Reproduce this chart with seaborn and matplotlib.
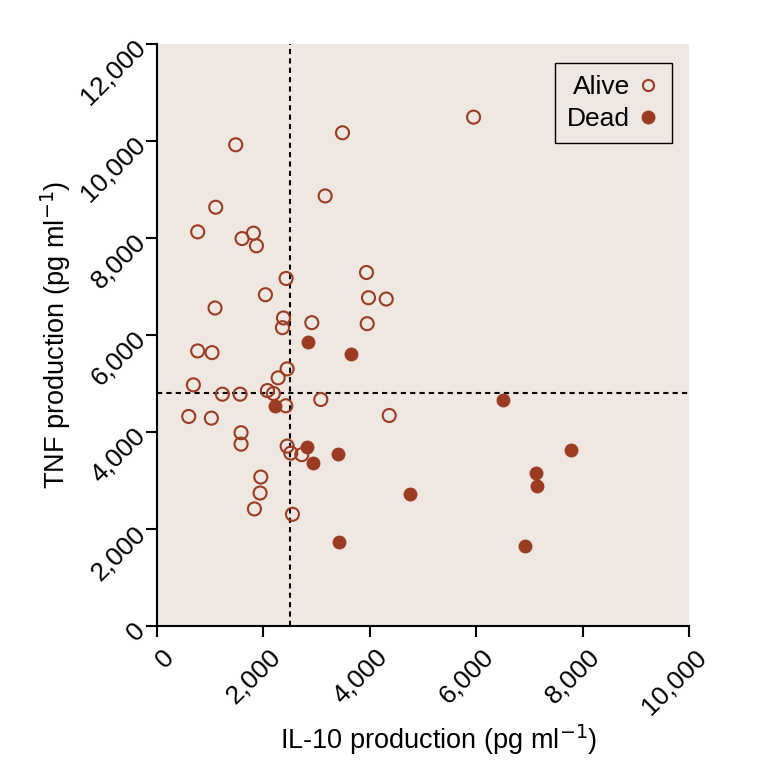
import matplotlib
matplotlib.use("Agg")
import matplotlib.pyplot as plt
import matplotlib.transforms as mtransforms
import seaborn as sns
import pandas as pd
from matplotlib.lines import Line2D
from matplotlib.ticker import FuncFormatter

# IL-10 / TNF production per patient
alive_il10 = [3487, 1480, 3161, 1104, 765, 1813, 1599, 1869, 2427, 3938, 2038, 3976,
              4309, 1091, 2377, 2358, 2910, 3951, 765, 1035, 2446, 2277, 684, 1229,
              1562, 2076, 2189, 2421, 3079, 4365, 596, 1022, 1580, 1580, 2446, 2515,
              2722, 1951, 1938, 1831, 2546, 5951]
alive_tnf = [10171, 9924, 8870, 8637, 8130, 8103, 7992, 7842, 7170, 7293, 6835, 6773,
             6746, 6561, 6356, 6156, 6259, 6238, 5677, 5642, 5307, 5122, 4978, 4786,
             4786, 4861, 4800, 4547, 4676, 4347, 4327, 4292, 3992, 3757, 3716, 3573,
             3540, 3079, 2750, 2422, 2312, 10493]
dead_il10 = [2835, 3656, 2220, 2822, 3399, 2941, 3412, 6497, 7783, 7131, 7149, 4754, 6924]
dead_tnf = [5868, 5615, 4547, 3690, 3560, 3361, 1731, 4656, 3628, 3162, 2895, 2730, 1655]

il10_cutoff = 2500
tnf_cutoff = 4800

red = "#9a3b22"
bg = "#efe7e1"

df = pd.DataFrame({
    "il10": alive_il10 + dead_il10,
    "tnf": alive_tnf + dead_tnf,
    "status": ["Alive"] * len(alive_il10) + ["Dead"] * len(dead_il10),
})

sns.set_style("ticks")
plt.rcParams['font.family'] = ['Liberation Sans', 'DejaVu Sans']
plt.rcParams['text.color'] = 'black'
plt.rcParams['axes.labelcolor'] = 'black'

fig = plt.figure(figsize=(7.64, 7.8), dpi=100)
ax = fig.add_axes([0.2055, 0.1968, 0.6963, 0.7468])
ax.set_facecolor(bg)

alive = df[df.status == "Alive"]
dead = df[df.status == "Dead"]
sns.scatterplot(data=alive, x="il10", y="tnf", ax=ax, marker="o", s=88,
                facecolor="none", edgecolor=red, linewidth=1.5, legend=False, zorder=3)
sns.scatterplot(data=dead, x="il10", y="tnf", ax=ax, marker="o", s=100,
                color=red, edgecolor=red, linewidth=0, legend=False, zorder=3)

ax.axvline(il10_cutoff, color="black", ls=(0, (2.5, 2)), lw=1.5, zorder=1)
ax.axhline(tnf_cutoff, color="black", ls=(0, (2.5, 2)), lw=1.5, zorder=1)

ax.set_xlim(0, 10000)
ax.set_ylim(0, 12000)
ax.set_xticks(range(0, 10001, 2000))
ax.set_yticks(range(0, 12001, 2000))
fmt = FuncFormatter(lambda v, p: f"{int(v):,}")
ax.xaxis.set_major_formatter(fmt)
ax.yaxis.set_major_formatter(fmt)

for s in ["top", "right"]:
    ax.spines[s].set_visible(False)
for s in ["left", "bottom"]:
    ax.spines[s].set_linewidth(1.5)
    ax.spines[s].set_color("black")
ax.tick_params(length=8, width=1.5, labelsize=19, colors="black", pad=3)
shift = mtransforms.ScaledTranslation(5 / 100, -3 / 100, fig.dpi_scale_trans)
for lbl in ax.get_xticklabels():
    lbl.set_rotation(45)
    lbl.set_ha("right")
    lbl.set_va("top")
    lbl.set_rotation_mode("anchor")
    lbl.set_transform(lbl.get_transform() + shift)
plt.setp(ax.get_yticklabels(), rotation=45, ha="right", va="center", rotation_mode="anchor")

ax.set_xlabel("IL-10 production (pg ml$^{-1}$)", fontsize=19.5)
ax.xaxis.set_label_coords(0.53, -0.165)
ax.set_ylabel("TNF production (pg ml$^{-1}$)", fontsize=19.5)
ax.yaxis.set_label_coords(-0.158, 0.5)

handles = [
    Line2D([], [], marker="o", ls="none", markersize=8, markerfacecolor="none",
           markeredgecolor=red, markeredgewidth=1.5),
    Line2D([], [], marker="o", ls="none", markersize=9, markerfacecolor=red,
           markeredgecolor=red),
]
leg = ax.legend(handles, ["Alive", "Dead"], loc="upper right", markerfirst=False,
                fontsize=19, frameon=True, fancybox=False, framealpha=1,
                bbox_to_anchor=(0.968, 0.967), handletextpad=0.25, borderpad=0.45,
                handlelength=0.9, labelspacing=0.3, borderaxespad=0)
leg.get_frame().set_edgecolor("black")
leg.get_frame().set_facecolor(bg)
leg.get_frame().set_linewidth(1.0)

fig.savefig("out.png", dpi=100)
